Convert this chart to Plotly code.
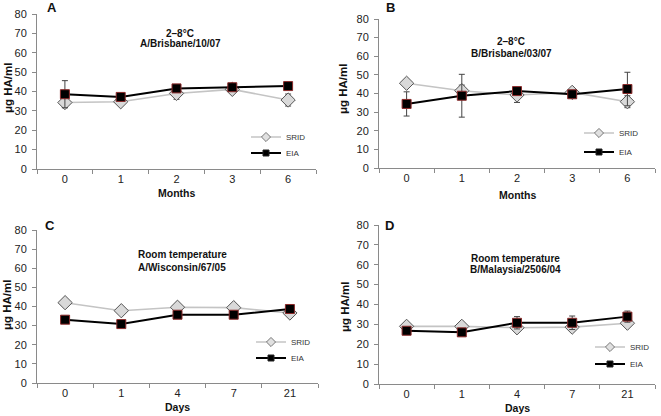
import plotly.graph_objects as go

W, H = 661, 416

# ---------------- data ----------------
months = ["0", "1", "2", "3", "6"]
days = ["0", "1", "4", "7", "21"]

a_srid = [34.3, 34.7, 39.0, 41.1, 35.6]
a_srid_err = [2.6, 1.0, 3.0, 1.7, 3.1]
a_eia = [38.6, 37.2, 41.6, 42.2, 42.8]
a_eia_err = [7.0, 1.0, 1.0, 1.0, 1.0]

b_srid = [45.5, 41.5, 39.2, 40.6, 35.6]
b_srid_err = [1.0, 3.0, 4.0, 1.0, 3.2]
b_eia = [34.4, 38.8, 41.3, 39.6, 42.4]
b_eia_err = [6.5, 11.5, 1.0, 1.0, 9.0]

c_srid = [42.0, 37.8, 39.6, 39.4, 36.6]
c_srid_err = [1.0, 1.0, 1.0, 1.0, 1.0]
c_eia = [33.1, 30.8, 35.7, 35.7, 38.7]
c_eia_err = [1.0, 1.0, 1.0, 1.0, 1.0]

d_srid = [29.0, 29.0, 28.3, 28.6, 30.6]
d_srid_err = [1.0, 1.0, 1.0, 1.0, 1.0]
d_eia = [26.8, 26.0, 30.8, 30.8, 33.9]
d_eia_err = [1.0, 1.0, 3.1, 3.4, 2.8]

yticks = [0, 10, 20, 30, 40, 50, 60, 70, 80]

# ---------------- layout helpers ----------------
def fx(px):
    return px / W

def fy(py):
    return 1 - py / H

FONT = "Liberation Sans, Arial, sans-serif"
AXCOL = "#8a8a8a"

SRID_LINE = dict(color="#c4c4c4", width=1.6)
SRID_MK = dict(symbol="diamond", size=11, color="#d9d9d9", line=dict(color="#555", width=1))
EIA_LINE = dict(color="black", width=2)
EIA_MK = dict(symbol="square", size=9, color="black", line=dict(color="#8b2a2a", width=1))

panels = [
    dict(letter="A", cats=months, srid=a_srid, se=a_srid_err, eia=a_eia, ee=a_eia_err,
         x0=37, x1=316, yt=14, yb=169, t1="2–8°C", t2="A/Brisbane/10/07", tc=(180, 33, 44),
         xl="Months", lp=(52, 7), ytp=(8, 88), xty=193, leg=(274, 137, 153)),
    dict(letter="B", cats=months, srid=b_srid, se=b_srid_err, eia=b_eia, ee=b_eia_err,
         x0=379, x1=655, yt=19, yb=168, t1="2–8°C", t2="B/Brisbane/03/07", tc=(511, 42, 53),
         xl="Months", lp=(390, 7), ytp=(343, 89), xty=195, leg=(607, 133, 152)),
    dict(letter="C", cats=days, srid=c_srid, se=c_srid_err, eia=c_eia, ee=c_eia_err,
         x0=37, x1=318, yt=230, yb=383, t1="Room temperature", t2="A/Wisconsin/67/05", tc=(182, 254, 267),
         xl="Days", lp=(50, 226), ytp=(7, 305), xty=407, leg=(279, 342, 358)),
    dict(letter="D", cats=days, srid=d_srid, se=d_srid_err, eia=d_eia, ee=d_eia_err,
         x0=379, x1=655, yt=225, yb=384, t1="Room temperature", t2="B/Malaysia/2506/04", tc=(515, 258, 269),
         xl="Days", lp=(389, 226), ytp=(345, 307), xty=408, leg=(618, 347, 364)),
]

fig = go.Figure()
layout = dict(
    template="none",
    width=W, height=H, margin=dict(l=0, r=0, t=0, b=0, autoexpand=False),
    paper_bgcolor="white", plot_bgcolor="white",
    font=dict(family=FONT, color="#222"),
    showlegend=True,
    annotations=[],
)

for i, p in enumerate(panels):
    n = "" if i == 0 else str(i + 1)
    xa, ya = "x" + n, "y" + n
    lg1 = "legend" if i == 0 else "legend" + str(2 * i + 1)
    lg2 = "legend" + str(2 * i + 2)

    fig.add_trace(go.Scatter(
        x=p["cats"], y=p["srid"], name="SRID", xaxis=xa, yaxis=ya, showlegend=False,
        mode="lines+markers", line=SRID_LINE, marker=SRID_MK,
        error_y=dict(type="data", array=p["se"], color="#444", thickness=1, width=3),
    ))
    fig.add_trace(go.Scatter(
        x=p["cats"], y=p["eia"], name="EIA", xaxis=xa, yaxis=ya, showlegend=False,
        mode="lines+markers", line=EIA_LINE, marker=EIA_MK,
        error_y=dict(type="data", array=p["ee"], color="#444", thickness=1, width=3),
    ))
    # legend entries (small symbols, as in the reference)
    fig.add_trace(go.Scatter(
        x=[None], y=[None], name="SRID", xaxis=xa, yaxis=ya, legend=lg1, mode="lines+markers",
        line=dict(color="#c4c4c4", width=1.5),
        marker=dict(symbol="diamond", size=7, color="#e0e0e0", line=dict(color="#777", width=1)),
    ))
    fig.add_trace(go.Scatter(
        x=[None], y=[None], name="EIA", xaxis=xa, yaxis=ya, legend=lg2, mode="lines+markers",
        line=dict(color="black", width=2),
        marker=dict(symbol="square", size=6, color="black", line=dict(color="#222", width=1)),
    ))

    layout["xaxis" + n] = dict(
        domain=[fx(p["x0"]), fx(p["x1"])], anchor=ya, type="category", automargin=False,
        range=[-0.5, 4.5], showline=True, linecolor=AXCOL, linewidth=1,
        ticks="outside", ticklen=4, tickcolor=AXCOL, tickson="boundaries",
        showgrid=False, zeroline=False, fixedrange=True,
        tickfont=dict(size=11, color="#222"),
    )
    layout["yaxis" + n] = dict(
        domain=[fy(p["yb"]), fy(p["yt"])], anchor=xa, range=[0, 80], automargin=False,
        tickvals=yticks, showline=True, linecolor=AXCOL, linewidth=1,
        ticks="outside", ticklen=4, tickcolor=AXCOL, ticklabelstandoff=3,
        showgrid=False, zeroline=False, fixedrange=True,
        tickfont=dict(size=11, color="#222"),
    )

    mx, sy, ey = p["leg"]
    for lg, yy in ((lg1, sy), (lg2, ey)):
        layout[lg] = dict(
            x=fx(mx - 28), y=fy(yy), xanchor="left", yanchor="middle",
            bgcolor="rgba(0,0,0,0)", font=dict(size=8, color="#333",
                                               family="Liberation Sans Narrow, Liberation Sans, Arial"),
            itemwidth=30, tracegroupgap=0, borderwidth=0,
        )

    tcx, ty1, ty2 = p["tc"]
    ann = layout["annotations"]
    ann.append(dict(text="<b>%s</b>" % p["t1"], x=fx(tcx), y=fy(ty1), xref="paper", yref="paper",
                    showarrow=False, font=dict(size=10, color="#111"), xanchor="center", yanchor="middle"))
    ann.append(dict(text="<b>%s</b>" % p["t2"], x=fx(tcx), y=fy(ty2), xref="paper", yref="paper",
                    showarrow=False, font=dict(size=10, color="#111"), xanchor="center", yanchor="middle"))
    ann.append(dict(text="<b>%s</b>" % p["letter"], x=fx(p["lp"][0]), y=fy(p["lp"][1]), xref="paper", yref="paper",
                    showarrow=False, font=dict(size=13, color="#111"), xanchor="center", yanchor="middle"))
    ann.append(dict(text="<b>μg HA/ml</b>", x=fx(p["ytp"][0]), y=fy(p["ytp"][1]), xref="paper", yref="paper",
                    showarrow=False, textangle=-90, font=dict(size=11.5, color="#111"),
                    xanchor="center", yanchor="middle"))
    ann.append(dict(text="<b>%s</b>" % p["xl"], x=fx((p["x0"] + p["x1"]) / 2), y=fy(p["xty"]),
                    xref="paper", yref="paper", showarrow=False, font=dict(size=10.5, color="#111"),
                    xanchor="center", yanchor="middle"))

fig.update_layout(**layout)
fig.write_html("out.html", config={"displayModeBar": False},
               post_script="document.body.style.margin='0';document.body.style.overflow='hidden';")
